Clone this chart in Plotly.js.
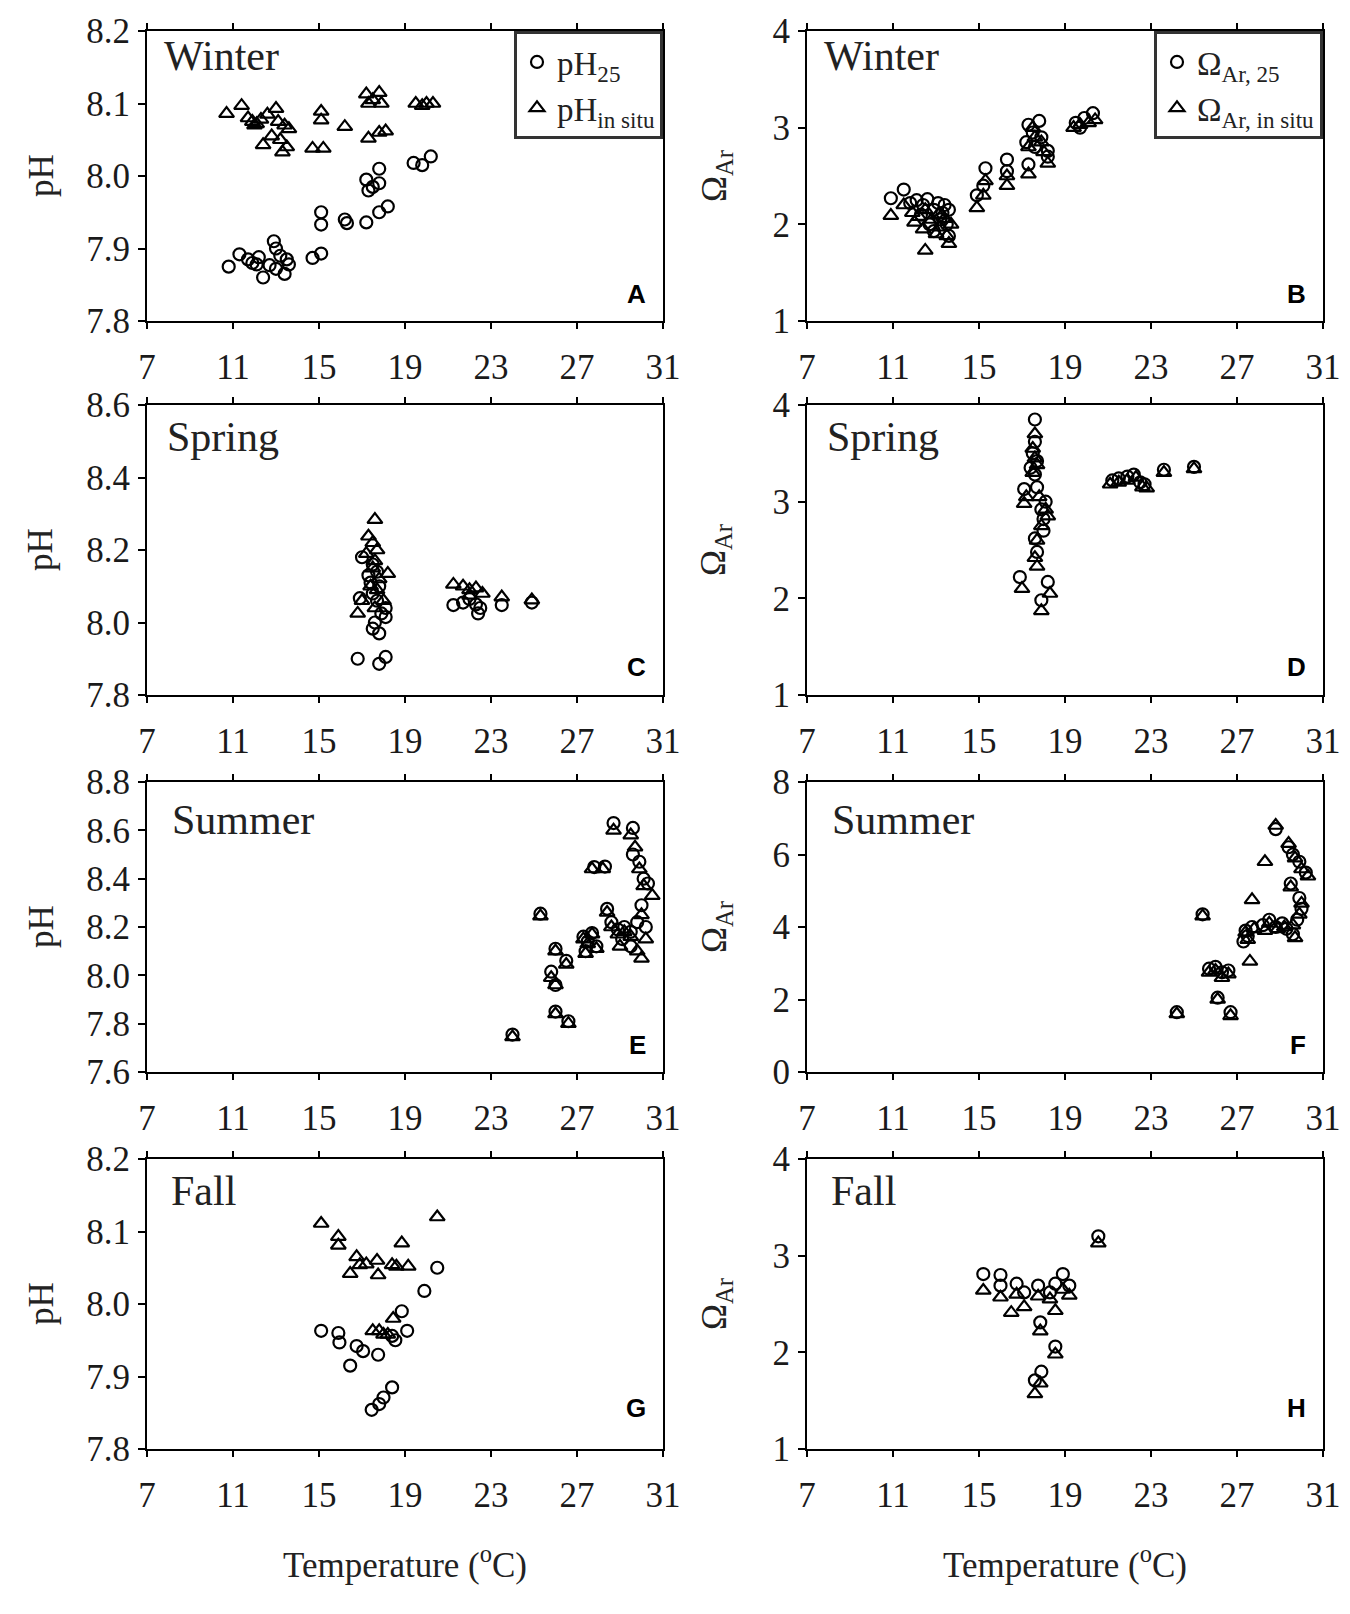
<!DOCTYPE html>
<html><head><meta charset="utf-8">
<script src="https://cdn.plot.ly/plotly-3.0.1.min.js"></script>
<style>html,body{margin:0;padding:0;background:#fff}</style>
</head><body>
<div id="chart" style="width:1350px;height:1614px"></div>
<script>
// ---------- DATA ----------
const xTickVals = [7, 11, 15, 19, 23, 27, 31];
const xTickText = ['7', '11', '15', '19', '23', '27', '31'];

const phTicksNarrow = [7.8, 7.9, 8.0, 8.1, 8.2];
const phTicksNarrowText = ['7.8', '7.9', '8.0', '8.1', '8.2'];
const phTicksSpring = [7.8, 8.0, 8.2, 8.4, 8.6];
const phTicksSpringText = ['7.8', '8.0', '8.2', '8.4', '8.6'];
const phTicksSummer = [7.6, 7.8, 8.0, 8.2, 8.4, 8.6, 8.8];
const phTicksSummerText = ['7.6', '7.8', '8.0', '8.2', '8.4', '8.6', '8.8'];
const omTicks = [1, 2, 3, 4];
const omTicksText = ['1', '2', '3', '4'];
const omTicksSummer = [0, 2, 4, 6, 8];
const omTicksSummerText = ['0', '2', '4', '6', '8'];

const seasons = ['Winter', 'Spring', 'Summer', 'Fall'];
const panelLetters = ['A', 'B', 'C', 'D', 'E', 'F', 'G', 'H'];

// Winter
const winterPh25T = [10.8,11.3,11.7,11.9,12.1,12.2,12.4,12.7,12.9,13.0,13.2,13.5,13.6,13.4,13.0,14.7,15.1,15.1,15.1,16.2,16.3,17.2,17.8,18.2,17.2,17.3,17.8,17.8,17.5,19.4,19.8,20.2];
const winterPh25 = [7.875,7.892,7.885,7.880,7.878,7.888,7.860,7.877,7.910,7.900,7.890,7.885,7.878,7.865,7.872,7.887,7.893,7.950,7.933,7.940,7.935,7.936,7.950,7.958,7.995,7.980,8.010,7.990,7.985,8.018,8.015,8.027];
const winterPhInsituT = [10.7,11.4,11.7,11.9,12.1,12.3,12.0,12.6,13.0,13.1,13.4,13.6,12.4,12.8,13.2,13.5,13.3,15.1,15.1,14.7,15.2,16.2,17.2,17.5,17.8,17.3,17.9,17.3,17.8,18.1,19.5,19.8,20.0,20.3];
const winterPhInsitu = [8.086,8.097,8.080,8.075,8.072,8.078,8.070,8.085,8.093,8.075,8.070,8.065,8.043,8.055,8.050,8.040,8.033,8.089,8.077,8.038,8.038,8.068,8.113,8.105,8.115,8.100,8.100,8.052,8.060,8.062,8.100,8.097,8.100,8.100];
const winterOm25T = [10.9,11.5,11.8,12.1,12.4,12.6,12.9,13.1,13.4,13.6,13.2,12.7,13.5,12.9,13.6,12.3,13.3,14.9,15.2,15.3,16.3,16.3,17.3,17.8,17.5,17.2,17.9,17.6,18.2,17.3,18.2,19.5,19.9,20.3,19.7];
const winterOm25 = [2.27,2.36,2.22,2.25,2.20,2.26,2.15,2.22,2.20,2.15,2.05,2.00,2.00,1.93,1.88,2.10,2.12,2.30,2.40,2.58,2.67,2.55,3.03,3.07,2.95,2.85,2.90,2.80,2.76,2.62,2.70,3.05,3.10,3.15,3.00];
const winterOmInsituT = [10.9,11.5,11.9,12.2,12.5,12.8,13.1,13.4,13.7,12.4,13.0,13.5,12.5,13.6,12.0,13.2,14.9,15.2,15.3,16.3,16.3,17.3,17.3,17.6,17.9,17.5,18.2,18.0,19.4,19.7,20.1,20.4];
const winterOmInsitu = [2.09,2.20,2.12,2.08,2.15,2.05,2.10,2.06,2.00,1.95,1.90,1.88,1.73,1.80,2.02,1.97,2.17,2.30,2.45,2.40,2.50,2.52,2.80,2.90,2.85,3.00,2.63,2.75,3.00,3.03,3.05,3.08];

// Spring
const springPh25T = [17.0,17.5,17.3,17.7,17.4,17.8,17.5,16.9,17.7,18.1,17.9,18.1,17.6,17.5,17.8,16.8,17.8,18.1,21.25,21.7,22.0,22.3,22.5,22.4,23.5,24.9];
const springPh25 = [8.180,8.160,8.130,8.140,8.110,8.100,8.080,8.067,8.060,8.040,8.025,8.015,8.000,7.983,7.970,7.900,7.886,7.905,8.048,8.055,8.065,8.050,8.040,8.025,8.048,8.055];
const springPhInsituT = [17.6,17.3,17.5,17.7,17.2,17.6,18.2,17.5,17.8,17.4,17.7,17.0,16.8,18.0,17.6,21.25,21.7,22.0,22.3,22.6,22.0,23.5,24.9];
const springPhInsitu = [8.284,8.238,8.220,8.200,8.190,8.170,8.135,8.150,8.120,8.100,8.090,8.060,8.025,8.060,8.040,8.105,8.100,8.090,8.095,8.080,8.075,8.070,8.062];
const springOm25T = [17.6,17.6,17.5,17.7,17.4,17.6,17.1,17.7,18.1,17.9,18.0,18.0,17.6,17.7,16.9,18.2,17.9,21.2,21.5,21.9,22.2,22.5,22.7,23.6,25.0];
const springOm25 = [3.85,3.62,3.50,3.42,3.35,3.28,3.13,3.15,3.00,2.92,2.82,2.70,2.62,2.48,2.22,2.17,1.98,3.22,3.24,3.26,3.28,3.20,3.18,3.33,3.36];
const springOmInsituT = [17.6,17.5,17.6,17.7,17.5,17.2,17.1,17.8,18.1,18.2,17.9,17.7,17.6,17.7,17.0,18.3,17.9,21.1,21.5,21.9,22.3,22.6,22.8,23.6,25.0];
const springOmInsitu = [3.70,3.55,3.45,3.38,3.30,3.05,2.98,3.05,2.92,2.85,2.75,2.60,2.42,2.33,2.10,2.05,1.87,3.18,3.20,3.22,3.25,3.15,3.14,3.30,3.34];

// Summer
const summerPh25T = [24.0,25.3,26.0,26.5,25.8,26.0,26.0,26.6,27.3,27.5,27.7,27.9,27.4,27.8,28.3,28.4,28.6,28.9,29.2,29.5,29.1,28.7,29.6,29.6,29.9,30.1,30.3,30.0,30.2,29.8,29.5];
const summerPh25 = [7.755,8.255,8.110,8.060,8.015,7.960,7.850,7.810,8.160,8.140,8.175,8.120,8.100,8.448,8.450,8.275,8.220,8.190,8.200,8.180,8.150,8.630,8.610,8.500,8.470,8.400,8.380,8.290,8.200,8.220,8.120];
const summerPhInsituT = [24.0,25.3,26.0,26.5,25.8,26.0,26.0,26.6,27.3,27.5,27.7,27.9,27.4,27.7,28.2,28.4,28.6,28.9,29.2,29.5,29.0,28.7,29.5,29.7,29.9,30.1,30.5,30.0,30.2,29.8,30.0];
const summerPhInsitu = [7.745,8.245,8.100,8.045,7.990,7.960,7.840,7.800,8.150,8.130,8.170,8.110,8.090,8.440,8.440,8.260,8.200,8.170,8.180,8.160,8.120,8.600,8.580,8.530,8.440,8.370,8.330,8.250,8.150,8.100,8.070];
const summerOm25T = [24.2,25.4,25.7,26.0,26.3,26.6,26.1,26.7,27.4,27.5,27.3,27.7,28.2,28.5,28.8,29.1,28.8,29.4,29.6,29.9,30.2,29.5,29.9,30.0,29.8,29.6,29.3];
const summerOm25 = [1.65,4.35,2.85,2.90,2.75,2.80,2.05,1.65,3.90,3.75,3.60,4.00,4.05,4.20,4.00,4.10,6.70,6.20,6.00,5.80,5.50,5.20,4.80,4.50,4.20,3.80,3.95];
const summerOmInsituT = [24.2,25.4,25.7,26.0,26.3,26.6,26.1,26.7,27.6,27.7,27.4,27.5,27.8,28.3,28.3,28.5,28.9,29.2,28.8,29.4,29.7,30.0,30.3,29.5,30.0,29.9,29.7,29.6];
const summerOmInsitu = [1.60,4.30,2.75,2.80,2.60,2.70,2.00,1.55,3.05,4.75,3.85,3.65,3.95,5.80,3.90,4.10,3.95,4.00,6.80,6.30,5.90,5.60,5.40,5.10,4.65,4.35,3.70,4.05];

// Fall
const fallPh25T = [20.5,19.9,18.85,15.1,15.9,15.95,16.75,17.05,17.75,16.45,18.4,19.1,18.55,18.4,18.0,17.8,17.45];
const fallPh25 = [8.050,8.018,7.990,7.963,7.960,7.947,7.942,7.935,7.930,7.915,7.956,7.963,7.950,7.885,7.871,7.862,7.854];
const fallPhInsituT = [15.1,15.9,15.9,16.75,16.9,16.45,17.2,17.7,17.75,18.4,18.6,19.15,18.85,20.5,18.45,17.5,17.8,18.2,18.0];
const fallPhInsitu = [8.111,8.093,8.081,8.065,8.054,8.042,8.055,8.060,8.040,8.054,8.052,8.052,8.084,8.120,7.980,7.963,7.963,7.958,7.958];
const fallOm25T = [20.55,15.2,16.0,16.0,16.75,17.1,17.75,18.3,18.55,18.9,19.2,17.85,18.55,17.9,17.6];
const fallOm25 = [3.20,2.81,2.80,2.69,2.71,2.62,2.69,2.62,2.71,2.81,2.69,2.31,2.06,1.80,1.71];
const fallOmInsituT = [20.55,15.2,16.0,16.75,16.5,17.1,17.75,18.3,18.55,18.9,19.2,17.85,18.55,17.85,17.6];
const fallOmInsitu = [3.13,2.64,2.57,2.60,2.41,2.47,2.58,2.55,2.43,2.65,2.59,2.22,1.98,1.68,1.57];

// ---------- BUILD ----------
const W = 1350, H = 1614;
const SERIF = '"Liberation Serif", "Times New Roman", serif';
const colPx = [[147, 663], [807, 1323]];
const rowPx = [[31, 321], [405, 695], [782, 1072], [1159, 1449]];

const panels = [
  {c25: [winterPh25T, winterPh25], cIn: [winterPhInsituT, winterPhInsitu], range: [7.8, 8.2], tv: phTicksNarrow, tt: phTicksNarrowText, leg: 'legend', n25: 'pH<sub>25</sub>', nIn: 'pH<sub>in situ</sub>'},
  {c25: [winterOm25T, winterOm25], cIn: [winterOmInsituT, winterOmInsitu], range: [1, 4], tv: omTicks, tt: omTicksText, leg: 'legend2', n25: 'Ω<sub>Ar, 25</sub>', nIn: 'Ω<sub>Ar, in situ</sub>'},
  {c25: [springPh25T, springPh25], cIn: [springPhInsituT, springPhInsitu], range: [7.8, 8.6], tv: phTicksSpring, tt: phTicksSpringText},
  {c25: [springOm25T, springOm25], cIn: [springOmInsituT, springOmInsitu], range: [1, 4], tv: omTicks, tt: omTicksText},
  {c25: [summerPh25T, summerPh25], cIn: [summerPhInsituT, summerPhInsitu], range: [7.6, 8.8], tv: phTicksSummer, tt: phTicksSummerText},
  {c25: [summerOm25T, summerOm25], cIn: [summerOmInsituT, summerOmInsitu], range: [0, 8], tv: omTicksSummer, tt: omTicksSummerText},
  {c25: [fallPh25T, fallPh25], cIn: [fallPhInsituT, fallPhInsitu], range: [7.8, 8.2], tv: phTicksNarrow, tt: phTicksNarrowText},
  {c25: [fallOm25T, fallOm25], cIn: [fallOmInsituT, fallOmInsitu], range: [1, 4], tv: omTicks, tt: omTicksText}
];

const tickFont = {family: SERIF, size: 35, color: '#1a1a1a'};
const layout = {
  width: W, height: H,
  margin: {l: 0, r: 0, t: 0, b: 0},
  paper_bgcolor: '#fff', plot_bgcolor: '#fff',
  showlegend: true,
  annotations: [], shapes: []
};
const traces = [];

panels.forEach((p, i) => {
  const col = i % 2, row = Math.floor(i / 2);
  const k = i + 1, sfx = k === 1 ? '' : String(k);
  const [l, r] = colPx[col], [t, b] = rowPx[row];
  layout['xaxis' + sfx] = {
    domain: [l / W, r / W], range: [7, 31], anchor: 'y' + sfx,
    tickvals: xTickVals, ticktext: xTickText, ticks: 'outside', ticklen: 6, tickwidth: 2, tickcolor: '#000',
    showline: true, linecolor: '#000', linewidth: 2, mirror: 'ticks',
    showgrid: false, zeroline: false, tickfont: tickFont, ticklabelstandoff: 8, fixedrange: true
  };
  layout['yaxis' + sfx] = {
    domain: [1 - b / H, 1 - t / H], range: p.range, anchor: 'x' + sfx,
    tickvals: p.tv, ticktext: p.tt, ticks: 'outside', ticklen: 7, tickwidth: 2, tickcolor: '#000',
    showline: true, linecolor: '#000', linewidth: 2, mirror: true,
    showgrid: false, zeroline: false, tickfont: tickFont, ticklabelstandoff: 1, fixedrange: true
  };
  const common = {type: 'scatter', mode: 'markers', xaxis: 'x' + sfx, yaxis: 'y' + sfx, hoverinfo: 'skip'};
  traces.push(Object.assign({}, common, {
    x: p.c25[0], y: p.c25[1], name: p.n25 || 'pH25', showlegend: !!p.leg, legend: p.leg || 'legend',
    marker: {symbol: 'circle-open', size: 12, color: '#000', line: {width: 2.2, color: '#000'}}
  }));
  traces.push(Object.assign({}, common, {
    x: p.cIn[0], y: p.cIn[1], name: p.nIn || 'in situ', showlegend: !!p.leg, legend: p.leg || 'legend',
    marker: {symbol: 'triangle-up-open', size: 13, color: '#000', line: {width: 2.2, color: '#000'}}
  }));
  // panel letter
  layout.annotations.push({
    xref: 'paper', yref: 'paper', x: (r - 15) / W, y: 1 - ([294, 667, 1045, 1408][row]) / H,
    xanchor: 'right', yanchor: 'middle', showarrow: false, text: '<b>' + panelLetters[i] + '</b>',
    font: {family: 'Liberation Sans, Arial, sans-serif', size: 26, color: '#000'}
  });
  // season label
  layout.annotations.push({
    xref: 'paper', yref: 'paper', x: (l + [15, 18, 23, 22][row]) / W, y: 1 - ([56, 437, 820, 1191][row]) / H,
    xanchor: 'left', yanchor: 'middle', showarrow: false, text: seasons[row],
    font: {family: SERIF, size: 42, color: '#222'}
  });
  // y title
  layout.annotations.push({
    xref: 'paper', yref: 'paper', x: (col === 0 ? 41 : 716) / W, y: 1 - ((t + b) / 2) / H,
    xanchor: 'center', yanchor: 'middle', showarrow: false, textangle: -90,
    text: col === 0 ? 'pH' : 'Ω<sub>Ar</sub>',
    font: {family: SERIF, size: 35, color: '#222'}
  });
});

// x titles
[0, 1].forEach(col => {
  layout.annotations.push({
    xref: 'paper', yref: 'paper', x: ((colPx[col][0] + colPx[col][1]) / 2) / W, y: 1 - 1562 / H,
    xanchor: 'center', yanchor: 'middle', showarrow: false,
    text: 'Temperature (<sup>o</sup>C)', font: {family: SERIF, size: 35, color: '#222'}
  });
});

const legendStyle = {
  yanchor: 'top', xanchor: 'right', y: 1 - 31 / H,
  bgcolor: '#fff', bordercolor: '#333', borderwidth: 3,
  font: {family: SERIF, size: 33, color: '#222'}, itemwidth: 30, tracegroupgap: 0
};
layout.legend = Object.assign({}, legendStyle, {x: 663 / W});
layout.legend2 = Object.assign({}, legendStyle, {x: 1323 / W});

Plotly.newPlot('chart', traces, layout, {staticPlot: true, displayModeBar: false});
</script>
</body></html>
